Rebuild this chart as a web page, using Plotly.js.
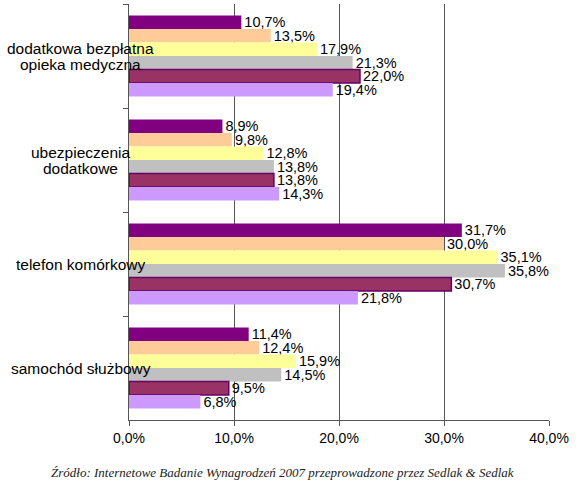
<!DOCTYPE html>
<html>
<head>
<meta charset="utf-8">
<script src="https://cdn.plot.ly/plotly-3.0.1.min.js"></script>
<style>html,body{margin:0;padding:0;background:#fff;}#chart{width:580px;height:484px;}</style>
</head>
<body>
<div id="chart"></div>
<script>
var categories = ["dodatkowa bezpłatna<br>opieka medyczna", "ubezpieczenia<br>dodatkowe", "telefon komórkowy", "samochód służbowy"];
var series1 = [10.7, 8.9, 31.7, 11.4];
var series2 = [13.5, 9.8, 30.0, 12.4];
var series3 = [17.9, 12.8, 35.1, 15.9];
var series4 = [21.3, 13.8, 35.8, 14.5];
var series5 = [22.0, 13.8, 30.7, 9.5];
var series6 = [19.4, 14.3, 21.8, 6.8];
var tickValues = [0, 10, 20, 30, 40];
var tickLabels = ["0,0%", "10,0%", "20,0%", "30,0%", "40,0%"];
var sourceText = "Źródło: Internetowe Badanie Wynagrodzeń 2007 przeprowadzone przez Sedlak & Sedlak";

var allSeries = [series1, series2, series3, series4, series5, series6];
var colors = ["#800080", "#FFCC99", "#FFFF99", "#C0C0C0", "#993366", "#CC99FF"];
var lineColors = [null, null, null, null, "#660066", null];

var traces = allSeries.map(function (vals, i) {
  return {
    type: "bar",
    orientation: "h",
    y: categories,
    x: vals,
    marker: {
      color: colors[i],
      line: lineColors[i] ? {color: lineColors[i], width: 1.5} : {width: 0}
    },
    texttemplate: "%{x:.1f}%",
    textposition: "outside",
    textfont: {family: "Liberation Sans, Arial, sans-serif", size: 14.5, color: "#000"},
    constraintext: "none",
    cliponaxis: false,
    hoverinfo: "none",
    showlegend: false
  };
});

var annotations = [];
var lineH = 16;
categories.forEach(function (c) {
  var lines = c.split("<br>");
  var n = lines.length;
  lines.forEach(function (ln, k) {
    annotations.push({
      xref: "paper", yref: "y",
      x: -0.115, y: c,
      xanchor: "center", yanchor: "middle",
      yshift: ((n - 1) / 2 - k) * lineH,
      text: ln,
      showarrow: false,
      font: {family: "Liberation Sans, Arial, sans-serif", size: 15.5, color: "#000"}
    });
  });
});
annotations.push({
  xref: "paper", yref: "paper",
  x: 0.365, y: -0.125,
  xanchor: "center", yanchor: "middle",
  text: sourceText,
  showarrow: false,
  font: {family: "Liberation Serif, serif", size: 13, color: "#222", style: "italic"}
});

var layout = {
  width: 580, height: 484,
  margin: {l: 129, r: 31, t: 4, b: 64},
  paper_bgcolor: "#fff", plot_bgcolor: "#fff",
  separators: ", ",
  barmode: "group",
  bargap: 0.22,
  bargroupgap: 0,
  xaxis: {
    range: [0, 40],
    tickmode: "array",
    tickvals: tickValues,
    ticktext: tickLabels,
    showgrid: true,
    gridcolor: "#555",
    gridwidth: 1,
    zeroline: false,
    showline: true,
    linecolor: "#555",
    ticks: "outside",
    ticklen: 5,
    tickcolor: "#555",
    tickfont: {family: "Liberation Sans, Arial, sans-serif", size: 14, color: "#000"},
    fixedrange: true
  },
  yaxis: {
    autorange: "reversed",
    showticklabels: false,
    showline: true,
    linecolor: "#555",
    ticks: "outside",
    tickson: "boundaries",
    ticklen: 5,
    tickcolor: "#555",
    showgrid: false,
    zeroline: false,
    fixedrange: true
  },
  annotations: annotations
};

Plotly.newPlot("chart", traces, layout, {displayModeBar: false, staticPlot: true});
</script>
</body>
</html>
